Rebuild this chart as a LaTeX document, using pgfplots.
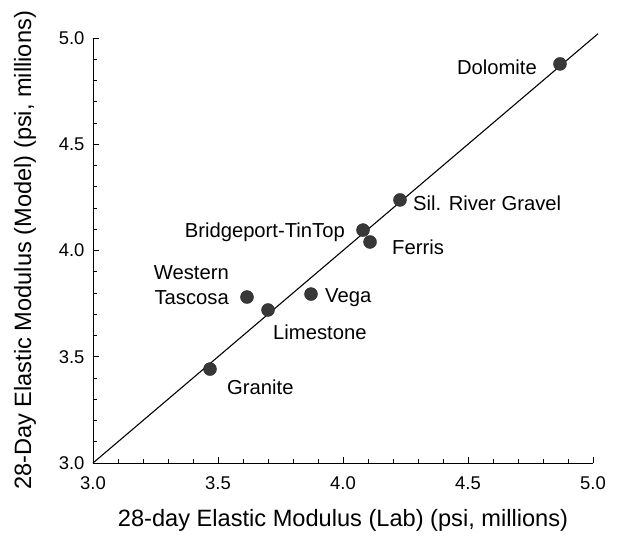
\documentclass[border=0pt]{standalone}
\usepackage{pgfplots}
\pgfplotsset{compat=1.18}
\usepackage{fontspec}
\setmainfont{Liberation Sans}
\begin{document}
\begin{tikzpicture}[x=1bp,y=1bp]
\useasboundingbox (-93,-78) rectangle (533,463);
\begin{axis}[
  at={(0,0)}, anchor=south west,
  scale only axis, width=500bp, height=425bp,
  xmin=3, xmax=5, ymin=3, ymax=5,
  axis lines=left, axis line style={-, line width=1pt},
  tick align=inside,
  xtick={3,3.5,4,4.5,5}, ytick={3,3.5,4,4.5,5},
  minor x tick num=4, minor y tick num=4,
  major tick length=6bp, minor tick length=3.5bp,
  tick style={black, line width=0.8pt},
  /pgf/number format/assume math mode=true,
  /pgf/number format/.cd, fixed, fixed zerofill, precision=1,
  /pgfplots/.cd,
  ticklabel style={font=\fontsize{18.5}{22}\selectfont},
  xticklabel style={yshift=-10bp},
  yticklabel style={xshift=-5bp},
  xlabel={28-day Elastic Modulus (Lab) (psi, millions)},
  ylabel={28-Day Elastic Modulus (Model) (psi, millions)},
  xlabel style={font=\fontsize{23.7}{26}\selectfont, yshift=-13bp},
  ylabel style={font=\fontsize{23.7}{26}\selectfont, yshift=16bp},
  clip=false,
]
\addplot[black, line width=1.1pt] coordinates {(3,3) (5.02,5.02)};
\addplot[only marks, mark=*, mark size=6.5bp, mark options={fill=black!78, draw=black!85}] coordinates {
(4.868,4.878)
(4.228,4.238)
(4.08,4.096)
(4.108,4.04)
(3.616,3.781)
(3.70,3.72)
(3.872,3.795)
(3.468,3.442)
};
\begin{scope}[every node/.style={font=\fontsize{20.3}{25}\selectfont, inner sep=0pt}]
\node[anchor=east] at (axis cs:4.776,4.864) {Dolomite};
\node[anchor=west] at (axis cs:4.28,4.224) {Sil. River Gravel};
\node[anchor=east] at (axis cs:4.008,4.087) {Bridgeport-TinTop};
\node[anchor=west] at (axis cs:4.196,4.016) {Ferris};
\node[anchor=east, align=right] at (axis cs:3.544,3.835) {Western\\Tascosa};
\node[anchor=west] at (axis cs:3.928,3.776) {Vega};
\node[anchor=west] at (axis cs:3.72,3.616) {Limestone};
\node[anchor=west] at (axis cs:3.536,3.358) {Granite};
\end{scope}
\end{axis}
\end{tikzpicture}
\end{document}
